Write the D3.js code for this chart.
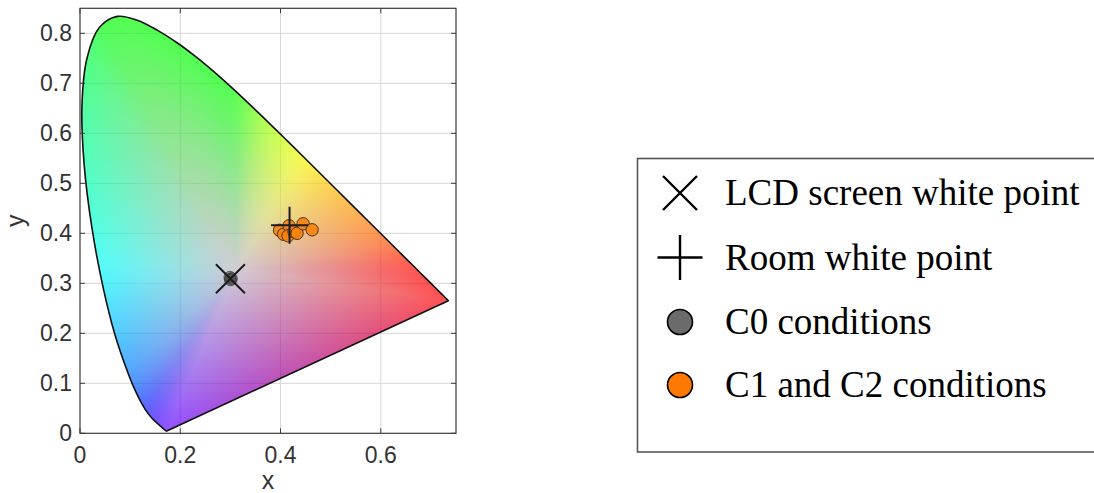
<!DOCTYPE html>
<html>
<head>
<meta charset="utf-8">
<script src="https://cdn.jsdelivr.net/npm/d3@7"></script>
<style>
  html, body { margin: 0; padding: 0; background: #ffffff; }
  svg { display: block; }
</style>
</head>
<body>
<svg id="chart" width="1094" height="493"></svg>
<script>
// CIE 1931 2° spectral locus, 380–700 nm in 5 nm steps
const locusNm = [380,385,390,395,400,405,410,415,420,425,430,435,440,445,450,455,460,465,470,475,
  480,485,490,495,500,505,510,515,520,525,530,535,540,545,550,555,560,565,570,575,580,585,590,595,
  600,605,610,615,620,625,630,635,640,645,650,655,660,665,670,675,680,685,690,695,700];
const locusX = [0.1741,0.1740,0.1738,0.1736,0.1733,0.1730,0.1726,0.1721,0.1714,0.1703,0.1689,0.1669,
  0.1644,0.1611,0.1566,0.1510,0.1440,0.1355,0.1241,0.1096,0.0913,0.0687,0.0454,0.0235,0.0082,0.0039,
  0.0139,0.0389,0.0743,0.1142,0.1547,0.1929,0.2296,0.2658,0.3016,0.3373,0.3731,0.4087,0.4441,0.4788,
  0.5125,0.5448,0.5752,0.6029,0.6270,0.6482,0.6658,0.6801,0.6915,0.7006,0.7079,0.7140,0.7190,0.7230,
  0.7260,0.7283,0.7300,0.7311,0.7320,0.7327,0.7334,0.7340,0.7344,0.7346,0.7347];
const locusY = [0.0050,0.0050,0.0049,0.0049,0.0048,0.0048,0.0048,0.0048,0.0051,0.0058,0.0069,0.0086,
  0.0109,0.0138,0.0177,0.0227,0.0297,0.0399,0.0578,0.0868,0.1327,0.2007,0.2950,0.4127,0.5384,0.6548,
  0.7502,0.8120,0.8338,0.8262,0.8059,0.7816,0.7543,0.7243,0.6923,0.6589,0.6245,0.5896,0.5547,0.5202,
  0.4866,0.4544,0.4242,0.3965,0.3725,0.3514,0.3340,0.3197,0.3083,0.2993,0.2920,0.2859,0.2809,0.2770,
  0.2740,0.2717,0.2700,0.2689,0.2680,0.2673,0.2666,0.2660,0.2656,0.2654,0.2653];

// Reference white (D65) used as the centre of the colour fan
const whitePoint = [0.3127, 0.3290];

// Measured chromaticities
const lcdWhite  = [[0.300, 0.309]];
const roomWhite = [[0.418, 0.416]];
const c0Points  = [[0.299, 0.312], [0.302, 0.309], [0.300, 0.307]];
const c12Points = [[0.398, 0.406], [0.406, 0.398], [0.417, 0.415], [0.415, 0.395],
                   [0.427, 0.403], [0.433, 0.400], [0.445, 0.419], [0.463, 0.407]];

// Axes
const xDomain = [0, 0.75];
const yDomain = [0, 0.85];
const xTicks = [0, 0.2, 0.4, 0.6];
const yTicks = [0, 0.1, 0.2, 0.3, 0.4, 0.5, 0.6, 0.7, 0.8];
const xTickLabels = ["0", "0.2", "0.4", "0.6"];
const yTickLabels = ["0", "0.1", "0.2", "0.3", "0.4", "0.5", "0.6", "0.7", "0.8"];
const xTitle = "x";
const yTitle = "y";

const legendLabels = ["LCD screen white point", "Room white point", "C0 conditions", "C1 and C2 conditions"];
const legendKinds  = ["times", "plus", "c0", "c12"];

// ---------------------------------------------------------------------------
const svg = d3.select("#chart");
const plot = { left: 80, right: 456, top: 8.3, bottom: 433.3 };

const x = d3.scaleLinear().domain(xDomain).range([plot.left, plot.right]);
const y = d3.scaleLinear().domain(yDomain).range([plot.bottom, plot.top]);

const axisColor = "#3a3a3a";
const tickFont = "'Liberation Sans', Arial, Helvetica, sans-serif";

// grid (sits beneath the translucent colour fill)
const grid = svg.append("g");
grid.selectAll("line.gx").data(xTicks.filter(d => d > 0)).join("line")
  .attr("x1", d => x(d)).attr("x2", d => x(d))
  .attr("y1", plot.top).attr("y2", plot.bottom)
  .attr("stroke", "#d6d6d6").attr("stroke-width", 1);
grid.selectAll("line.gy").data(yTicks.filter(d => d > 0)).join("line")
  .attr("x1", plot.left).attr("x2", plot.right)
  .attr("y1", d => y(d)).attr("y2", d => y(d))
  .attr("stroke", "#d6d6d6").attr("stroke-width", 1);

// ---- smooth spectral locus (open curve 380 → 700 nm)
const locus = locusX.map((lx, i) => [lx, locusY[i]]);
const locusPath = svg.append("path")
  .attr("d", d3.line().x(d => x(d[0])).y(d => y(d[1])).curve(d3.curveCatmullRom.alpha(0.5))(locus))
  .attr("fill", "none").attr("stroke", "none");
const pathNode = locusPath.node();
const totalLen = pathNode.getTotalLength();
const samples = [];
for (let s = 0; s <= totalLen; s += 1) {
  const p = pathNode.getPointAtLength(s);
  samples.push([p.x, p.y]);
}
const pEnd = pathNode.getPointAtLength(totalLen);
samples.push([pEnd.x, pEnd.y]);

// ---- colour fill: triangle fan from the white point, vertex colours interpolated
function xyToRGB(cx, cy) {
  const X = cx / cy, Y = 1, Z = (1 - cx - cy) / cy;
  let r =  3.2406 * X - 1.5372 * Y - 0.4986 * Z;
  let g = -0.9689 * X + 1.8758 * Y + 0.0415 * Z;
  let b =  0.0557 * X - 0.2040 * Y + 1.0570 * Z;
  r = Math.max(0, r); g = Math.max(0, g); b = Math.max(0, b);
  const m = Math.max(r, g, b) || 1;
  const enc = v => { v /= m; return 255 * (v <= 0.0031308 ? 12.92 * v : 1.055 * Math.pow(v, 1 / 2.4) - 0.055); };
  return [enc(r), enc(g), enc(b)];
}

const rawCols = samples.map(p => xyToRGB(Math.max(0.002, x.invert(p[0])), Math.max(0.004, y.invert(p[1]))));
// soften hue transitions along the boundary (gaussian along arc length)
const sigma = 14, rad = Math.ceil(sigma * 3);
const smoothCols = rawCols.map((_, i) => {
  const acc = [0, 0, 0]; let wsum = 0;
  for (let k = -rad; k <= rad; k++) {
    const j = Math.min(rawCols.length - 1, Math.max(0, i + k));
    const w = Math.exp(-(k * k) / (2 * sigma * sigma));
    for (let c = 0; c < 3; c++) acc[c] += w * rawCols[j][c];
    wsum += w;
  }
  return acc.map(v => v / wsum);
});
const fanVerts = samples.map((p, i) => ({ px: p[0], py: p[1], c: smoothCols[i] }));
const centre = { px: x(whitePoint[0]), py: y(whitePoint[1]), c: [188, 180, 192] };

const cw = Math.ceil(plot.right - plot.left), ch = Math.ceil(plot.bottom - plot.top);
const canvas = document.createElement("canvas");
canvas.width = cw; canvas.height = ch;
const ctx = canvas.getContext("2d");
const img = ctx.createImageData(cw, ch);
const buf = img.data;

function fillTri(A, B, C) {
  const minX = Math.max(0, Math.floor(Math.min(A.px, B.px, C.px) - plot.left) - 1);
  const maxX = Math.min(cw - 1, Math.ceil(Math.max(A.px, B.px, C.px) - plot.left) + 1);
  const minY = Math.max(0, Math.floor(Math.min(A.py, B.py, C.py) - plot.top) - 1);
  const maxY = Math.min(ch - 1, Math.ceil(Math.max(A.py, B.py, C.py) - plot.top) + 1);
  const d = (B.py - C.py) * (A.px - C.px) + (C.px - B.px) * (A.py - C.py);
  if (Math.abs(d) < 1e-9) return;
  for (let j = minY; j <= maxY; j++) {
    const Py = j + 0.5 + plot.top;
    for (let i = minX; i <= maxX; i++) {
      const Px = i + 0.5 + plot.left;
      const l1 = ((B.py - C.py) * (Px - C.px) + (C.px - B.px) * (Py - C.py)) / d;
      const l2 = ((C.py - A.py) * (Px - C.px) + (A.px - C.px) * (Py - C.py)) / d;
      const l3 = 1 - l1 - l2;
      if (l1 < -1e-6 || l2 < -1e-6 || l3 < -1e-6) continue;
      const k = (j * cw + i) * 4;
      for (let c = 0; c < 3; c++) buf[k + c] = l1 * A.c[c] + l2 * B.c[c] + l3 * C.c[c];
      buf[k + 3] = 255;
    }
  }
}
for (let i = 0; i < fanVerts.length; i++) {
  fillTri(centre, fanVerts[i], fanVerts[(i + 1) % fanVerts.length]);
}
ctx.putImageData(img, 0, 0);

svg.append("image")
  .attr("x", plot.left).attr("y", plot.top)
  .attr("width", cw).attr("height", ch)
  .attr("preserveAspectRatio", "none")
  .attr("opacity", 0.68)
  .attr("href", canvas.toDataURL());

// outline: smooth locus closed by the straight line of purples
svg.append("path")
  .attr("d", locusPath.attr("d") + "Z")
  .attr("fill", "none").attr("stroke", "#111").attr("stroke-width", 1.6)
  .attr("stroke-linejoin", "round");

// axes box, ticks and tick labels
svg.append("rect")
  .attr("x", plot.left).attr("y", plot.top)
  .attr("width", plot.right - plot.left).attr("height", plot.bottom - plot.top)
  .attr("fill", "none").attr("stroke", axisColor).attr("stroke-width", 1.2);

const tl = 5;
const ticks = svg.append("g").attr("stroke", axisColor).attr("stroke-width", 1);
xTicks.forEach(d => {
  ticks.append("line").attr("x1", x(d)).attr("x2", x(d)).attr("y1", plot.bottom).attr("y2", plot.bottom - tl);
  ticks.append("line").attr("x1", x(d)).attr("x2", x(d)).attr("y1", plot.top).attr("y2", plot.top + tl);
});
yTicks.forEach(d => {
  ticks.append("line").attr("x1", plot.left).attr("x2", plot.left + tl).attr("y1", y(d)).attr("y2", y(d));
  ticks.append("line").attr("x1", plot.right).attr("x2", plot.right - tl).attr("y1", y(d)).attr("y2", y(d));
});

svg.append("g").selectAll("text").data(xTicks).join("text")
  .attr("x", d => x(d)).attr("y", 463)
  .attr("text-anchor", "middle")
  .attr("font-family", tickFont).attr("font-size", 23).attr("fill", "#333")
  .text((d, i) => xTickLabels[i]);

svg.append("g").selectAll("text").data(yTicks).join("text")
  .attr("x", 72).attr("y", d => y(d))
  .attr("dy", "0.35em")
  .attr("text-anchor", "end")
  .attr("font-family", tickFont).attr("font-size", 23).attr("fill", "#333")
  .text((d, i) => yTickLabels[i]);

svg.append("text")
  .attr("x", (plot.left + plot.right) / 2).attr("y", 489)
  .attr("text-anchor", "middle")
  .attr("font-family", tickFont).attr("font-size", 25).attr("fill", "#333")
  .text(xTitle);

svg.append("text")
  .attr("transform", `translate(24,${(plot.top + plot.bottom) / 2}) rotate(-90)`)
  .attr("text-anchor", "middle")
  .attr("font-family", tickFont).attr("font-size", 25).attr("fill", "#333")
  .text(yTitle);

// ---- data markers
const marks = svg.append("g");
marks.selectAll("circle.c0").data(c0Points).join("circle")
  .attr("cx", d => x(d[0])).attr("cy", d => y(d[1])).attr("r", 6)
  .attr("fill", "#4a4a4a").attr("fill-opacity", 0.55)
  .attr("stroke", "#222").attr("stroke-width", 0.8).attr("stroke-opacity", 0.7);

const xs = 14.5;
lcdWhite.forEach(d => {
  const cx = x(d[0]), cy = y(d[1]);
  marks.append("path")
    .attr("d", `M${cx - xs},${cy - xs}L${cx + xs},${cy + xs}M${cx - xs},${cy + xs}L${cx + xs},${cy - xs}`)
    .attr("stroke", "#1c1c1c").attr("stroke-width", 2).attr("fill", "none");
});

marks.selectAll("circle.c12").data(c12Points).join("circle")
  .attr("cx", d => x(d[0])).attr("cy", d => y(d[1])).attr("r", 6.2)
  .attr("fill", "#f7820f").attr("fill-opacity", 0.9)
  .attr("stroke", "#3a2a10").attr("stroke-width", 0.9);

const ps = 18.5;
roomWhite.forEach(d => {
  const cx = x(d[0]), cy = y(d[1]);
  marks.append("path")
    .attr("d", `M${cx - ps},${cy}L${cx + ps},${cy}M${cx},${cy - ps}L${cx},${cy + ps}`)
    .attr("stroke", "#1c1c1c").attr("stroke-width", 2).attr("fill", "none");
});

// ---- legend
const lg = svg.append("g");
lg.append("rect")
  .attr("x", 637.5).attr("y", 158.5).attr("width", 480).attr("height", 293.5)
  .attr("fill", "#fff").attr("stroke", "#555").attr("stroke-width", 1.6);

const rowY = [193, 257.5, 322, 385];
const mx = 680;
legendKinds.forEach((k, i) => {
  const cy = rowY[i];
  if (k === "times") {
    const s = 17;
    lg.append("path").attr("d", `M${mx - s},${cy - s}L${mx + s},${cy + s}M${mx - s},${cy + s}L${mx + s},${cy - s}`)
      .attr("stroke", "#000").attr("stroke-width", 2.4);
  } else if (k === "plus") {
    const s = 22.5;
    lg.append("path").attr("d", `M${mx - s},${cy}L${mx + s},${cy}M${mx},${cy - s}L${mx},${cy + s}`)
      .attr("stroke", "#000").attr("stroke-width", 2.4);
  } else {
    lg.append("circle").attr("cx", mx).attr("cy", cy).attr("r", 12.5)
      .attr("fill", k === "c0" ? "#6b6b6b" : "#ff7800")
      .attr("stroke", "#000").attr("stroke-width", 1.6);
  }
  lg.append("text")
    .attr("x", 725).attr("y", cy + 12)
    .attr("font-family", "'Liberation Serif', 'Times New Roman', Times, serif")
    .attr("font-size", 37).attr("fill", "#000")
    .text(legendLabels[i]);
});
</script>
</body>
</html>
